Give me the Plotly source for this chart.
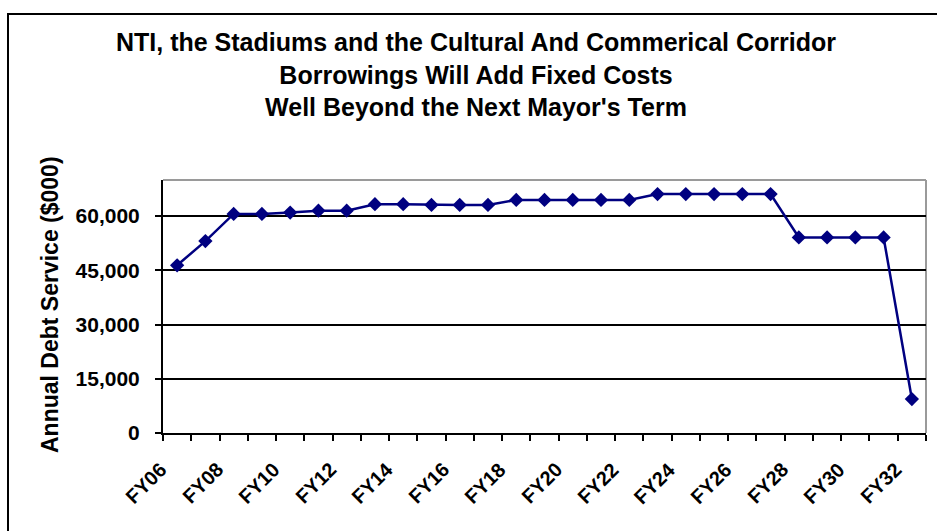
import plotly.graph_objects as go

# Fiscal years and annual debt service (thousands of dollars)
years = ["FY06", "FY07", "FY08", "FY09", "FY10", "FY11", "FY12", "FY13", "FY14",
         "FY15", "FY16", "FY17", "FY18", "FY19", "FY20", "FY21", "FY22", "FY23",
         "FY24", "FY25", "FY26", "FY27", "FY28", "FY29", "FY30", "FY31", "FY32"]
debt_service = [46400, 53100, 60600, 60600, 61000, 61500, 61500, 63300, 63300,
                63100, 63100, 63100, 64500, 64500, 64500, 64500, 64500, 66100,
                66100, 66100, 66100, 66100, 54100, 54100, 54100, 54100, 9400]
# every other year is labelled along the category axis
labelled_years = years[::2]
y_ticks = [0, 15000, 30000, 45000, 60000]
y_tick_text = ["0", "15,000", "30,000", "45,000", "60,000"]

W, H = 937, 531
L, R, T, B = 163, 11, 180, 98
pw, ph = W - L - R, H - T - B


def px_x(px):
    return (px - L) / pw


def px_y(py):
    return (H - B - py) / ph


NAVY = "#000080"
FONT = "Arial, Liberation Sans, sans-serif"

fig = go.Figure(
    go.Scatter(
        x=years,
        y=debt_service,
        mode="lines+markers",
        line=dict(color=NAVY, width=2.5),
        marker=dict(symbol="diamond", size=11, color=NAVY),
        cliponaxis=False,
        showlegend=False,
    )
)

# slanted year labels, centred a little down and left of each category
year_annotations = [
    dict(
        text=f"<b>{yr}</b>",
        xref="x",
        yref="paper",
        x=yr,
        y=px_y(483),
        xshift=-31,
        textangle=-45,
        xanchor="center",
        yanchor="middle",
        showarrow=False,
        font=dict(size=20, family=FONT, color="black"),
    )
    for yr in labelled_years
]

fig.update_layout(
    width=W,
    height=H,
    margin=dict(l=L, r=R, t=T, b=B, pad=0),
    paper_bgcolor="white",
    plot_bgcolor="white",
    font=dict(family=FONT, color="black"),
    title=dict(
        text="<b>NTI, the Stadiums and the Cultural And Commerical Corridor<br>"
             "Borrowings Will Add Fixed Costs<br>"
             "Well Beyond the Next Mayor's Term</b>",
        font=dict(size=25, family=FONT, color="black"),
        x=476 / W,
        xanchor="center",
        xref="container",
        y=1 - 51 / H,
        yanchor="top",
        yref="container",
    ),
    xaxis=dict(
        type="category",
        tickmode="array",
        tickvals=years,
        showticklabels=False,
        tickson="boundaries",
        ticks="outside",
        ticklen=6,
        tickwidth=2,
        tickcolor="black",
        showline=True,
        linecolor="black",
        linewidth=2,
        showgrid=False,
        range=[-0.5, len(years) - 0.5],
        fixedrange=True,
    ),
    yaxis=dict(
        range=[0, 70000],
        tickmode="array",
        tickvals=y_ticks,
        ticktext=y_tick_text,
        ticks="outside",
        ticklen=6,
        tickwidth=2,
        tickcolor="black",
        tickfont=dict(size=21, family=FONT, color="black", weight="bold"),
        ticklabelstandoff=11,
        showline=True,
        linecolor="black",
        linewidth=2,
        showgrid=True,
        gridcolor="black",
        gridwidth=2,
        zeroline=False,
        fixedrange=True,
    ),
    annotations=[
        dict(
            text="<b>Annual Debt Service ($000)</b>",
            textangle=-90,
            xref="paper",
            yref="paper",
            x=px_x(50),
            y=px_y(305),
            xanchor="center",
            yanchor="middle",
            showarrow=False,
            font=dict(size=23, family=FONT, color="black"),
        )
    ] + year_annotations,
    shapes=[
        # grey frame on the top and right of the plotting area
        dict(type="line", xref="paper", yref="paper", x0=0, x1=1, y0=1, y1=1,
             line=dict(color="#9a9a9a", width=2), layer="below"),
        dict(type="line", xref="paper", yref="paper", x0=1, x1=1, y0=0, y1=1,
             line=dict(color="#9a9a9a", width=2), layer="below"),
        # black outline around the whole chart
        dict(type="rect", xref="paper", yref="paper",
             x0=px_x(8), x1=px_x(948), y0=px_y(545), y1=px_y(14),
             line=dict(color="black", width=2), fillcolor="rgba(0,0,0,0)"),
    ],
)

fig.write_html("out.html")
